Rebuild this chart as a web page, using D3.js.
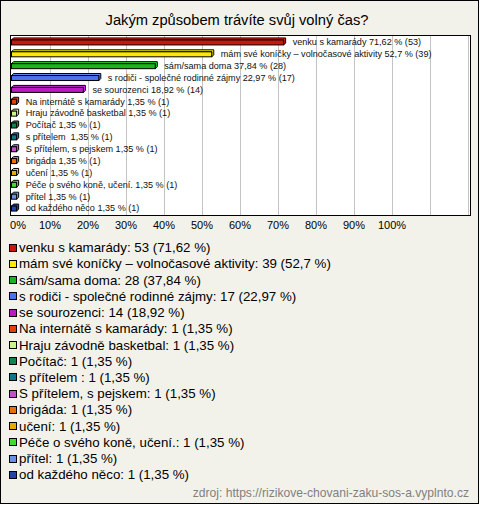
<!DOCTYPE html>
<html><head><meta charset="utf-8">
<script src="https://cdn.jsdelivr.net/npm/d3@7"></script>
<style>html,body{margin:0;padding:0;background:#fff} .bl{white-space:pre}</style>
</head><body>
<svg id="c" width="480" height="505"></svg>
<script>
const categories = ["venku s kamarády","mám své koníčky – volnočasové aktivity","sám/sama doma","s rodiči - společné rodinné zájmy","se sourozenci","Na internátě s kamarády","Hraju závodně basketbal","Počítač","s přítelem ","S přítelem, s pejskem","brigáda","učení","Péče o svého koně, učení.","přítel","od každého něco"];
const counts = [53,39,28,17,14,1,1,1,1,1,1,1,1,1,1];
const percents = [71.62,52.7,37.84,22.97,18.92,1.35,1.35,1.35,1.35,1.35,1.35,1.35,1.35,1.35,1.35];
const colors = ["#c8180c","#ffe800","#1cb41c","#4a72ea","#b81cc0","#e0400c","#c8f48c","#10844c","#107888","#c050c8","#e8700c","#e4ac00","#40dc30","#6890e4","#2444a8"];
const tickValues = [0,0.1,0.2,0.3,0.4,0.5,0.6,0.7,0.8,0.9,1.0];
const title = "Jakým způsobem trávíte svůj volný čas?";
const source = "zdroj: https://rizikove-chovani-zaku-sos-a.vyplnto.cz";

const svg = d3.select("#c");
const FONT = "'Liberation Sans', Arial, sans-serif";
const fmt = v => String(v).replace(".", ",");

svg.append("rect").attr("x",0.5).attr("y",0.5).attr("width",478).attr("height",503)
  .attr("fill","#f3f2ea").attr("stroke","#000");

svg.append("text").attr("x",237).attr("y",25).attr("text-anchor","middle")
  .attr("font-family",FONT).attr("font-size",14.7).attr("fill","#000").text(title);

const plot = {x0:10.5, x1:470.5, y0:35.5, y1:215.5};
svg.append("rect").attr("x",plot.x0).attr("y",plot.y0).attr("width",plot.x1-plot.x0).attr("height",plot.y1-plot.y0)
  .attr("fill","#fff");

const x = d3.scaleLinear().domain([0,1.2]).range([11.5,467.5]);
const y = d3.scaleBand().domain(d3.range(categories.length)).range([36,214]).paddingInner(0);

// gridlines
svg.append("g").selectAll("line").data(d3.range(1,13).map(i=>i/10)).join("line")
  .attr("x1",d=>Math.round(x(d))+0.5).attr("x2",d=>Math.round(x(d))+0.5)
  .attr("y1",plot.y0).attr("y2",plot.y1).attr("stroke","#c4c4c4");

svg.append("rect").attr("x",plot.x0).attr("y",plot.y0).attr("width",plot.x1-plot.x0).attr("height",plot.y1-plot.y0)
  .attr("fill","none").attr("stroke","#000");

// axis labels
const axis = d3.axisBottom(x).tickValues(tickValues).tickFormat(d=>Math.round(d*100)+"%").tickSize(0);
const ag = svg.append("g").attr("transform","translate(0,218)").call(axis);
ag.select(".domain").remove();
ag.selectAll("text").attr("font-family",FONT).attr("font-size",11).attr("fill","#000")
  .attr("dx",d=>d===0?6:0);

// bars (3D look)
const bars = svg.append("g");
categories.forEach((c,i)=>{
  const v = percents[i]/100;
  const yc = y(i) + y.bandwidth()/2;
  const x0 = x(0), x1 = x(v);
  const w = Math.max(x1-x0, 4);
  const col = d3.color(colors[i]);
  const g = bars.append("g");
  g.append("path").attr("d",`M${x0},${yc-2} L${x0+2},${yc-4} L${x0+w+2},${yc-4} L${x0+w+2},${yc+1} L${x0+w},${yc+3} L${x0+w},${yc-2} Z`)
    .attr("fill",col.brighter(0.6)).attr("stroke","#000").attr("stroke-width",1);
  g.append("rect").attr("x",x0).attr("y",yc-2).attr("width",w).attr("height",5)
    .attr("fill",colors[i]).attr("stroke","#000").attr("stroke-width",1);
  svg.append("text").attr("class","bl").attr("x",x0+w+9).attr("y",yc+3.3)
    .attr("font-family",FONT).attr("font-size",9.1).attr("fill","#111")
    .text(`${c} ${fmt(percents[i])} % (${counts[i]})`);
});

// legend
const ly = d3.scaleBand().domain(d3.range(categories.length)).range([239.5,483]);
const lg = svg.append("g");
categories.forEach((c,i)=>{
  const yc = ly(i)+ly.bandwidth()/2;
  lg.append("rect").attr("x",9.5).attr("y",Math.round(yc-4)+0.5).attr("width",7).attr("height",7)
    .attr("fill",colors[i]).attr("stroke","#000");
  lg.append("text").attr("x",19).attr("y",yc+4.5).attr("font-family",FONT).attr("font-size",13.3)
    .attr("fill","#000").text(`${c}: ${counts[i]} (${fmt(percents[i])} %)`);
});

svg.append("text").attr("x",469).attr("y",497).attr("text-anchor","end")
  .attr("font-family",FONT).attr("font-size",12.1).attr("fill","#808080").text(source);
</script>
</body></html>
